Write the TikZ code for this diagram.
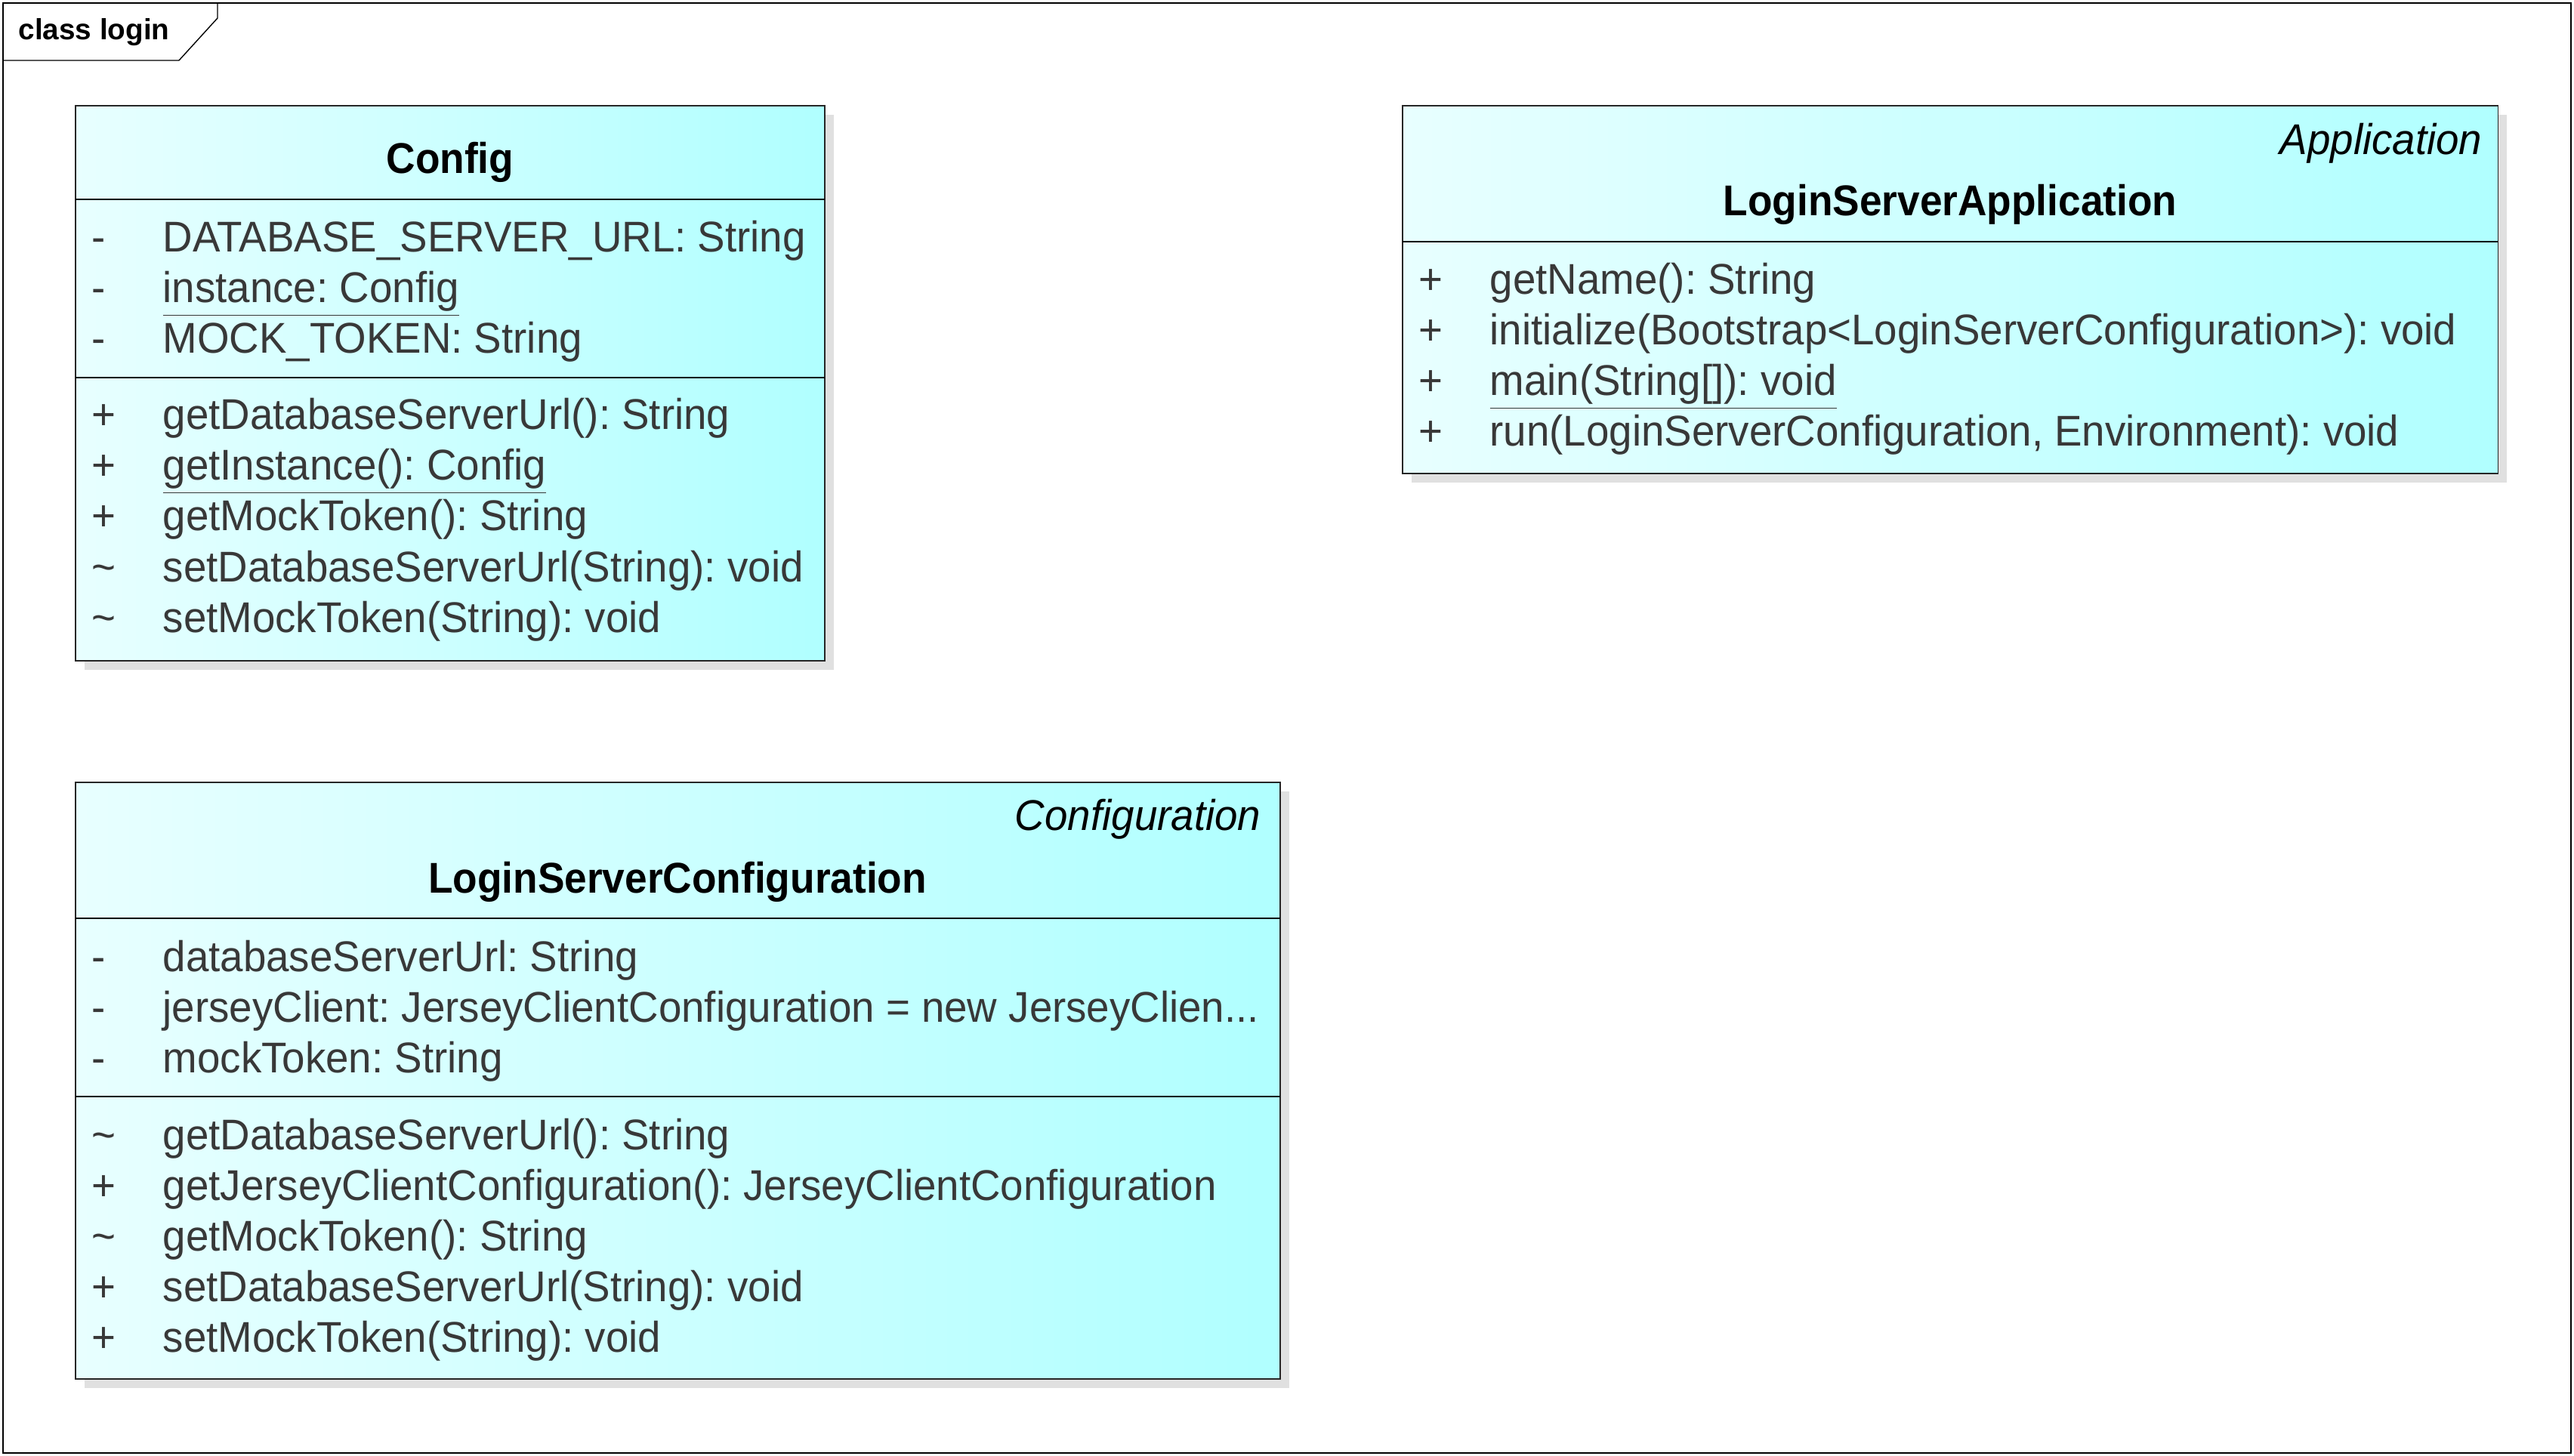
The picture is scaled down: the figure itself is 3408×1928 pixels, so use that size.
\documentclass[tikz,border=0pt]{standalone}
\usepackage{fontspec}
\setmainfont{Liberation Sans}[FakeStretch=0.96, BoldFeatures={FakeStretch=0.935}]
\newfontfamily\framefont{Liberation Sans}
\frenchspacing
\usetikzlibrary{shadows}
\definecolor{boxleft}{HTML}{E8FFFF}
\definecolor{boxright}{HTML}{B0FFFF}
\definecolor{txtgray}{HTML}{383838}
\definecolor{shadowgray}{HTML}{E0E0E0}

\begin{document}
\begin{tikzpicture}[x=0.01cm,y=-0.01cm,
  classbox/.style={draw=black!85, line width=0.3pt, left color=boxleft, right color=boxright,
    drop shadow={shadow xshift=0.12cm, shadow yshift=-0.12cm, fill=shadowgray, opacity=1}},
  sepline/.style={draw=black, line width=0.3pt},
  member/.style={anchor=base west, inner sep=0pt, text=txtgray, font=\fontsize{16.2}{19}\selectfont},
  classname/.style={anchor=base, inner sep=0pt, font=\fontsize{16.2}{19}\selectfont\bfseries},
  stereo/.style={anchor=base east, inner sep=0pt, font=\fontsize{16.2}{19}\selectfont\itshape}]
\useasboundingbox (0,0) rectangle (3408,1928);

% frame
\draw[line width=0.4pt] (4,4) rectangle (3404,1924);
\draw[line width=0.4pt] (288,4) -- (288,24) -- (237,80) -- (4,80);
\node[anchor=base west, inner sep=0pt, font=\framefont\fontsize{11}{13}\selectfont\bfseries] (frametitle) at (24,53) {class login};

% Config
\draw[classbox] (100,140) rectangle (1092,875);
\draw[sepline] (100,264) -- (1092,264);
\draw[sepline] (100,500) -- (1092,500);
\node[classname] (cfgname) at (596,230) {Config};
\node[member] (cfgv1) at (121,334) {-};
\node[member] (cfgv2) at (121,401) {-};
\node[member] (cfgv3) at (121,468) {-};
\node[member] (cfga1) at (215,334) {DATABASE\_SERVER\_URL: String};
\node[member] (cfga2) at (215,401) {\underline{instance: Config}};
\node[member] (cfga3) at (215,468) {MOCK\_TOKEN: String};
\node[member] (cfgv4) at (121,569) {+};
\node[member] (cfgv5) at (121,636) {+};
\node[member] (cfgv6) at (121,703) {+};
\node[member] (cfgv7) at (121,771) {\textasciitilde};
\node[member] (cfgv8) at (121,838) {\textasciitilde};
\node[member] (cfgm1) at (215,569) {getDatabaseServerUrl(): String};
\node[member] (cfgm2) at (215,636) {\underline{getInstance(): Config}};
\node[member] (cfgm3) at (215,703) {getMockToken(): String};
\node[member] (cfgm4) at (215,771) {setDatabaseServerUrl(String): void};
\node[member] (cfgm5) at (215,838) {setMockToken(String): void};

% LoginServerApplication
\draw[classbox] (1857,140) rectangle (3307,627);
\draw[sepline] (1857,320) -- (3307,320);
\node[stereo] (appstereo) at (3287,205) {Application};
\node[classname] (appname) at (2582,286) {LoginServerApplication};
\node[member] (appv1) at (1878,390) {+};
\node[member] (appv2) at (1878,457) {+};
\node[member] (appv3) at (1878,524) {+};
\node[member] (appv4) at (1878,591) {+};
\node[member] (appm1) at (1972,390) {getName(): String};
\node[member] (appm2) at (1972,457) {initialize(Bootstrap<LoginServerConfiguration>): void};
\node[member] (appm3) at (1972,524) {\underline{main(String[]): void}};
\node[member] (appm4) at (1972,591) {run(LoginServerConfiguration, Environment): void};

% LoginServerConfiguration
\draw[classbox] (100,1036) rectangle (1695,1826);
\draw[sepline] (100,1216) -- (1695,1216);
\draw[sepline] (100,1452) -- (1695,1452);
\node[stereo] (lscstereo) at (1670,1100) {Configuration};
\node[classname] (lscname) at (897,1182) {LoginServerConfiguration};
\node[member] (lscv1) at (121,1286) {-};
\node[member] (lscv2) at (121,1353) {-};
\node[member] (lscv3) at (121,1420) {-};
\node[member] (lsca1) at (215,1286) {databaseServerUrl: String};
\node[member] (lsca2) at (215,1353) {jerseyClient: JerseyClientConfiguration = new JerseyClien...};
\node[member] (lsca3) at (215,1420) {mockToken: String};
\node[member] (lscv4) at (121,1522) {\textasciitilde};
\node[member] (lscv5) at (121,1589) {+};
\node[member] (lscv6) at (121,1656) {\textasciitilde};
\node[member] (lscv7) at (121,1723) {+};
\node[member] (lscv8) at (121,1790) {+};
\node[member] (lscm1) at (215,1522) {getDatabaseServerUrl(): String};
\node[member] (lscm2) at (215,1589) {getJerseyClientConfiguration(): JerseyClientConfiguration};
\node[member] (lscm3) at (215,1656) {getMockToken(): String};
\node[member] (lscm4) at (215,1723) {setDatabaseServerUrl(String): void};
\node[member] (lscm5) at (215,1790) {setMockToken(String): void};
\end{tikzpicture}
\end{document}
